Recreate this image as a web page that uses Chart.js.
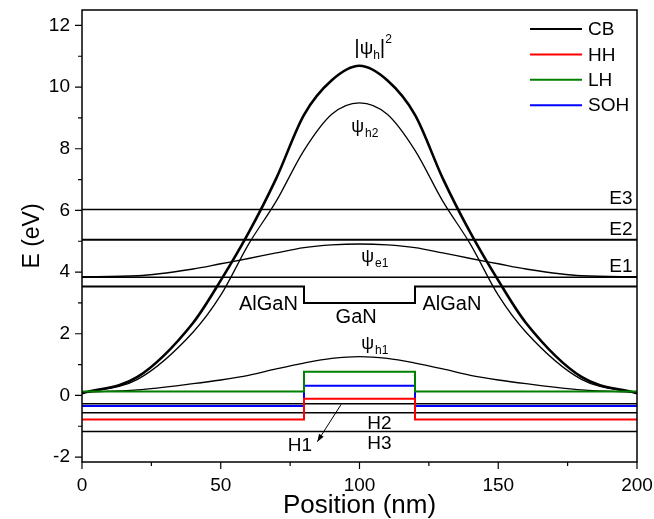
<!DOCTYPE html>
<html><head><meta charset="utf-8">
<script src="https://cdn.jsdelivr.net/npm/chart.js@4.4.1/dist/chart.umd.min.js"></script>
<style>html,body{margin:0;padding:0;background:#fff;}#wrap{width:654px;height:519px;}</style>
</head><body><div id="wrap"><canvas id="c" width="654" height="519"></canvas></div>
<script>
// ---- data ----
const positionNm   = [0, 20, 40, 50, 60, 70, 80, 90, 100, 110, 120, 130, 140, 150, 160, 180, 200];
const psiHSquared  = [0.07, 0.6, 2.35, 3.73, 5.27, 7.04, 9.1, 10.22, 10.69, 10.22, 9.1, 7.04, 5.27, 3.73, 2.35, 0.6, 0.07];
const psiH2        = [0.07, 0.52, 2.05, 3.25, 4.9, 6.3, 7.95, 9.12, 9.49, 9.12, 7.95, 6.3, 4.9, 3.25, 2.05, 0.52, 0.07];
const psiE1        = [3.85, 3.88, 4.1, 4.27, 4.44, 4.62, 4.79, 4.88, 4.91, 4.88, 4.79, 4.62, 4.44, 4.27, 4.1, 3.88, 3.85];
const psiH1        = [0.1, 0.18, 0.38, 0.5, 0.65, 0.86, 1.05, 1.2, 1.26, 1.2, 1.05, 0.86, 0.65, 0.5, 0.38, 0.18, 0.1];

const deviceExtent = [0, 200];      // nm
const wellEdges    = [80, 120];     // nm (GaN well)
const cbBand  = [3.53, 3.0];        // [AlGaN barrier, GaN well] eV
const hhBand  = [-0.78, -0.11];
const lhBand  = [0.13, 0.77];
const sohBand = [-0.34, 0.31];

const levelNames    = ['E1', 'E2', 'E3', 'H1', 'H2', 'H3'];
const levelEnergies = [3.83, 5.05, 6.03, -0.27, -0.56, -1.17];

const xMajorTicks = [0, 50, 100, 150, 200];
const xMinorTicks = [25, 75, 125, 175];
const yMajorTicks = [-2, 0, 2, 4, 6, 8, 10, 12];
const yMinorTicks = [-1, 1, 3, 5, 7, 9, 11];

// ---- build library data ----
const curve = ys => positionNm.map((x, i) => ({x, y: ys[i]}));
const band = b => [
  {x: deviceExtent[0], y: b[0]}, {x: wellEdges[0], y: b[0]},
  {x: wellEdges[0], y: b[1]},    {x: wellEdges[1], y: b[1]},
  {x: wellEdges[1], y: b[0]},    {x: deviceExtent[1], y: b[0]}
];
const flat = e => [{x: deviceExtent[0], y: e}, {x: deviceExtent[1], y: e}];

const FONT = "'Liberation Sans', Arial, sans-serif";
const base = {fill: false, pointRadius: 0, tension: 0, borderJoinStyle: 'miter'};

const datasets = [
  {...base, label: 'CB',  data: band(cbBand),  borderColor: '#000000', borderWidth: 2, legend: true},
  {...base, label: 'HH',  data: band(hhBand),  borderColor: '#ff0000', borderWidth: 2, legend: true},
  {...base, label: 'LH',  data: band(lhBand),  borderColor: '#008000', borderWidth: 2, legend: true},
  {...base, label: 'SOH', data: band(sohBand), borderColor: '#0000ff', borderWidth: 2, legend: true},
  {...base, label: '|ψh|²', data: curve(psiHSquared), borderColor: '#000', borderWidth: 2.6, cubicInterpolationMode: 'monotone'},
  {...base, label: 'ψh2', data: curve(psiH2), borderColor: '#000', borderWidth: 1.3, cubicInterpolationMode: 'monotone'},
  {...base, label: 'ψe1', data: curve(psiE1), borderColor: '#000', borderWidth: 1.3, cubicInterpolationMode: 'monotone'},
  {...base, label: 'ψh1', data: curve(psiH1), borderColor: '#000', borderWidth: 1.3, cubicInterpolationMode: 'monotone'},
  ...levelNames.map((n, i) => ({...base, label: n, data: flat(levelEnergies[i]), borderColor: '#000', borderWidth: n === 'E2' ? 2 : 1.5}))
];

// annotation placements (data units)
const regionText = [
  {t: 'AlGaN', x: 67.2, y: 2.95}, {t: 'GaN', x: 98.8, y: 2.52}, {t: 'AlGaN', x: 133.3, y: 2.95}
];
const holeText = [
  {t: 'H2', x: 107.2, y: -0.91}, {t: 'H3', x: 107.2, y: -1.57}, {t: 'H1', x: 78.5, y: -1.63}
];
const psiText = [
  {sub: 'h2', x: 99.3, y: 8.54}, {sub: 'e1', x: 102.9, y: 4.34}, {sub: 'h1', x: 102.9, y: 1.52}
];
const h1Arrow = [[93.4, -0.29], [84.8, -1.5]];

const decor = {
  id: 'decor',
  afterDatasetsDraw(chart) {
    const {ctx, chartArea: a, scales: {x, y}} = chart;
    const px = v => x.getPixelForValue(v), py = v => y.getPixelForValue(v);
    ctx.save();
    ctx.fillStyle = '#000'; ctx.strokeStyle = '#000';
    // frame
    ctx.lineWidth = 1.5;
    ctx.strokeRect(a.left, a.top, a.right - a.left, a.bottom - a.top);
    // ticks
    ctx.lineWidth = 1.2;
    ctx.beginPath();
    yMajorTicks.forEach(v => { const p = py(v); ctx.moveTo(a.left - 7, p); ctx.lineTo(a.left, p); });
    yMinorTicks.forEach(v => { const p = py(v); ctx.moveTo(a.left - 4, p); ctx.lineTo(a.left, p); });
    xMajorTicks.forEach(v => { const p = px(v); ctx.moveTo(p, a.bottom); ctx.lineTo(p, a.bottom + 7); });
    xMinorTicks.forEach(v => { const p = px(v); ctx.moveTo(p, a.bottom); ctx.lineTo(p, a.bottom + 4); });
    ctx.stroke();

    // legend
    ctx.font = `19px ${FONT}`;
    ctx.textBaseline = 'middle'; ctx.textAlign = 'left';
    chart.data.datasets.filter(d => d.legend).forEach((d, i) => {
      const yy = 29 + i * 25.4;
      ctx.strokeStyle = d.borderColor; ctx.lineWidth = 2;
      ctx.beginPath(); ctx.moveTo(530, yy); ctx.lineTo(582, yy); ctx.stroke();
      ctx.fillText(d.label, 588, yy + 1);
    });
    ctx.strokeStyle = '#000';

    // level labels for E states
    ctx.textAlign = 'right'; ctx.textBaseline = 'alphabetic';
    levelNames.forEach((n, i) => {
      if (n[0] === 'E') ctx.fillText(n, px(198.4), py(levelEnergies[i]) - 5);
    });
    // region labels
    ctx.textAlign = 'center'; ctx.textBaseline = 'middle';
    ctx.font = `20px ${FONT}`;
    regionText.forEach(l => ctx.fillText(l.t, px(l.x), py(l.y)));
    ctx.font = `19px ${FONT}`;
    holeText.forEach(l => ctx.fillText(l.t, px(l.x), py(l.y)));

    // psi labels
    psiText.forEach(l => {
      ctx.font = `18px ${FONT}`; ctx.textAlign = 'center'; ctx.textBaseline = 'alphabetic';
      const cx = px(l.x), by = py(l.y);
      ctx.fillText('ψ', cx, by);
      const w = ctx.measureText('ψ').width;
      ctx.font = `12px ${FONT}`; ctx.textAlign = 'left';
      ctx.fillText(l.sub, cx + w / 2 + 1, by + 5);
    });
    // |psi_h|^2
    {
      const cx = px(104.9), by = py(11.07);
      const parts = [
        {t: '|', f: 21, dy: 0}, {t: 'ψ', f: 19, dy: 0}, {t: 'h', f: 12, dy: 5},
        {t: '|', f: 21, dy: 0}, {t: '2', f: 12, dy: -11}
      ];
      let tot = 0;
      parts.forEach(p => { ctx.font = `${p.f}px ${FONT}`; p.w = ctx.measureText(p.t).width; tot += p.w; });
      let xx = cx - tot / 2;
      ctx.textAlign = 'left'; ctx.textBaseline = 'alphabetic';
      parts.forEach(p => { ctx.font = `${p.f}px ${FONT}`; ctx.fillText(p.t, xx, by + p.dy); xx += p.w; });
    }
    // arrow to H1
    {
      const x0 = px(h1Arrow[0][0]), y0 = py(h1Arrow[0][1]);
      const x1 = px(h1Arrow[1][0]), y1 = py(h1Arrow[1][1]);
      ctx.lineWidth = 1;
      ctx.beginPath(); ctx.moveTo(x0, y0); ctx.lineTo(x1, y1); ctx.stroke();
      const ang = Math.atan2(y1 - y0, x1 - x0), L = 8, s = 0.35;
      ctx.beginPath();
      ctx.moveTo(x1, y1);
      ctx.lineTo(x1 - L * Math.cos(ang - s), y1 - L * Math.sin(ang - s));
      ctx.lineTo(x1 - L * Math.cos(ang + s), y1 - L * Math.sin(ang + s));
      ctx.closePath(); ctx.fill();
    }
    ctx.restore();
  }
};

new Chart(document.getElementById('c'), {
  type: 'line',
  data: {datasets},
  options: {
    responsive: false, animation: false, devicePixelRatio: 1,
    layout: {padding: {left: 0, top: 10, right: 17, bottom: 0}},
    plugins: {legend: {display: false}, tooltip: {enabled: false}},
    scales: {
      x: {
        type: 'linear', min: 0, max: 200,
        afterFit: s => { s.height = 57; s.paddingLeft = 0; s.paddingRight = 0; },
        grid: {display: false, drawTicks: false}, border: {display: false},
        ticks: {stepSize: 50, includeBounds: false, color: '#000', font: {family: FONT, size: 19}, padding: 12, maxRotation: 0},
        title: {display: true, text: 'Position (nm)', color: '#000', font: {family: FONT, size: 26}, padding: {top: 0, bottom: -2}}
      },
      y: {
        type: 'linear', min: -2.16, max: 12.5,
        afterFit: s => { s.width = 82; s.paddingTop = 0; s.paddingBottom = 0; },
        grid: {display: false, drawTicks: false}, border: {display: false},
        ticks: {stepSize: 2, includeBounds: false, color: '#000', font: {family: FONT, size: 19}, padding: 12},
        title: {display: true, text: 'E (eV)', color: '#000', font: {family: FONT, size: 23}, padding: {top: 19, bottom: 0}}
      }
    }
  },
  plugins: [decor]
});
</script></body></html>
